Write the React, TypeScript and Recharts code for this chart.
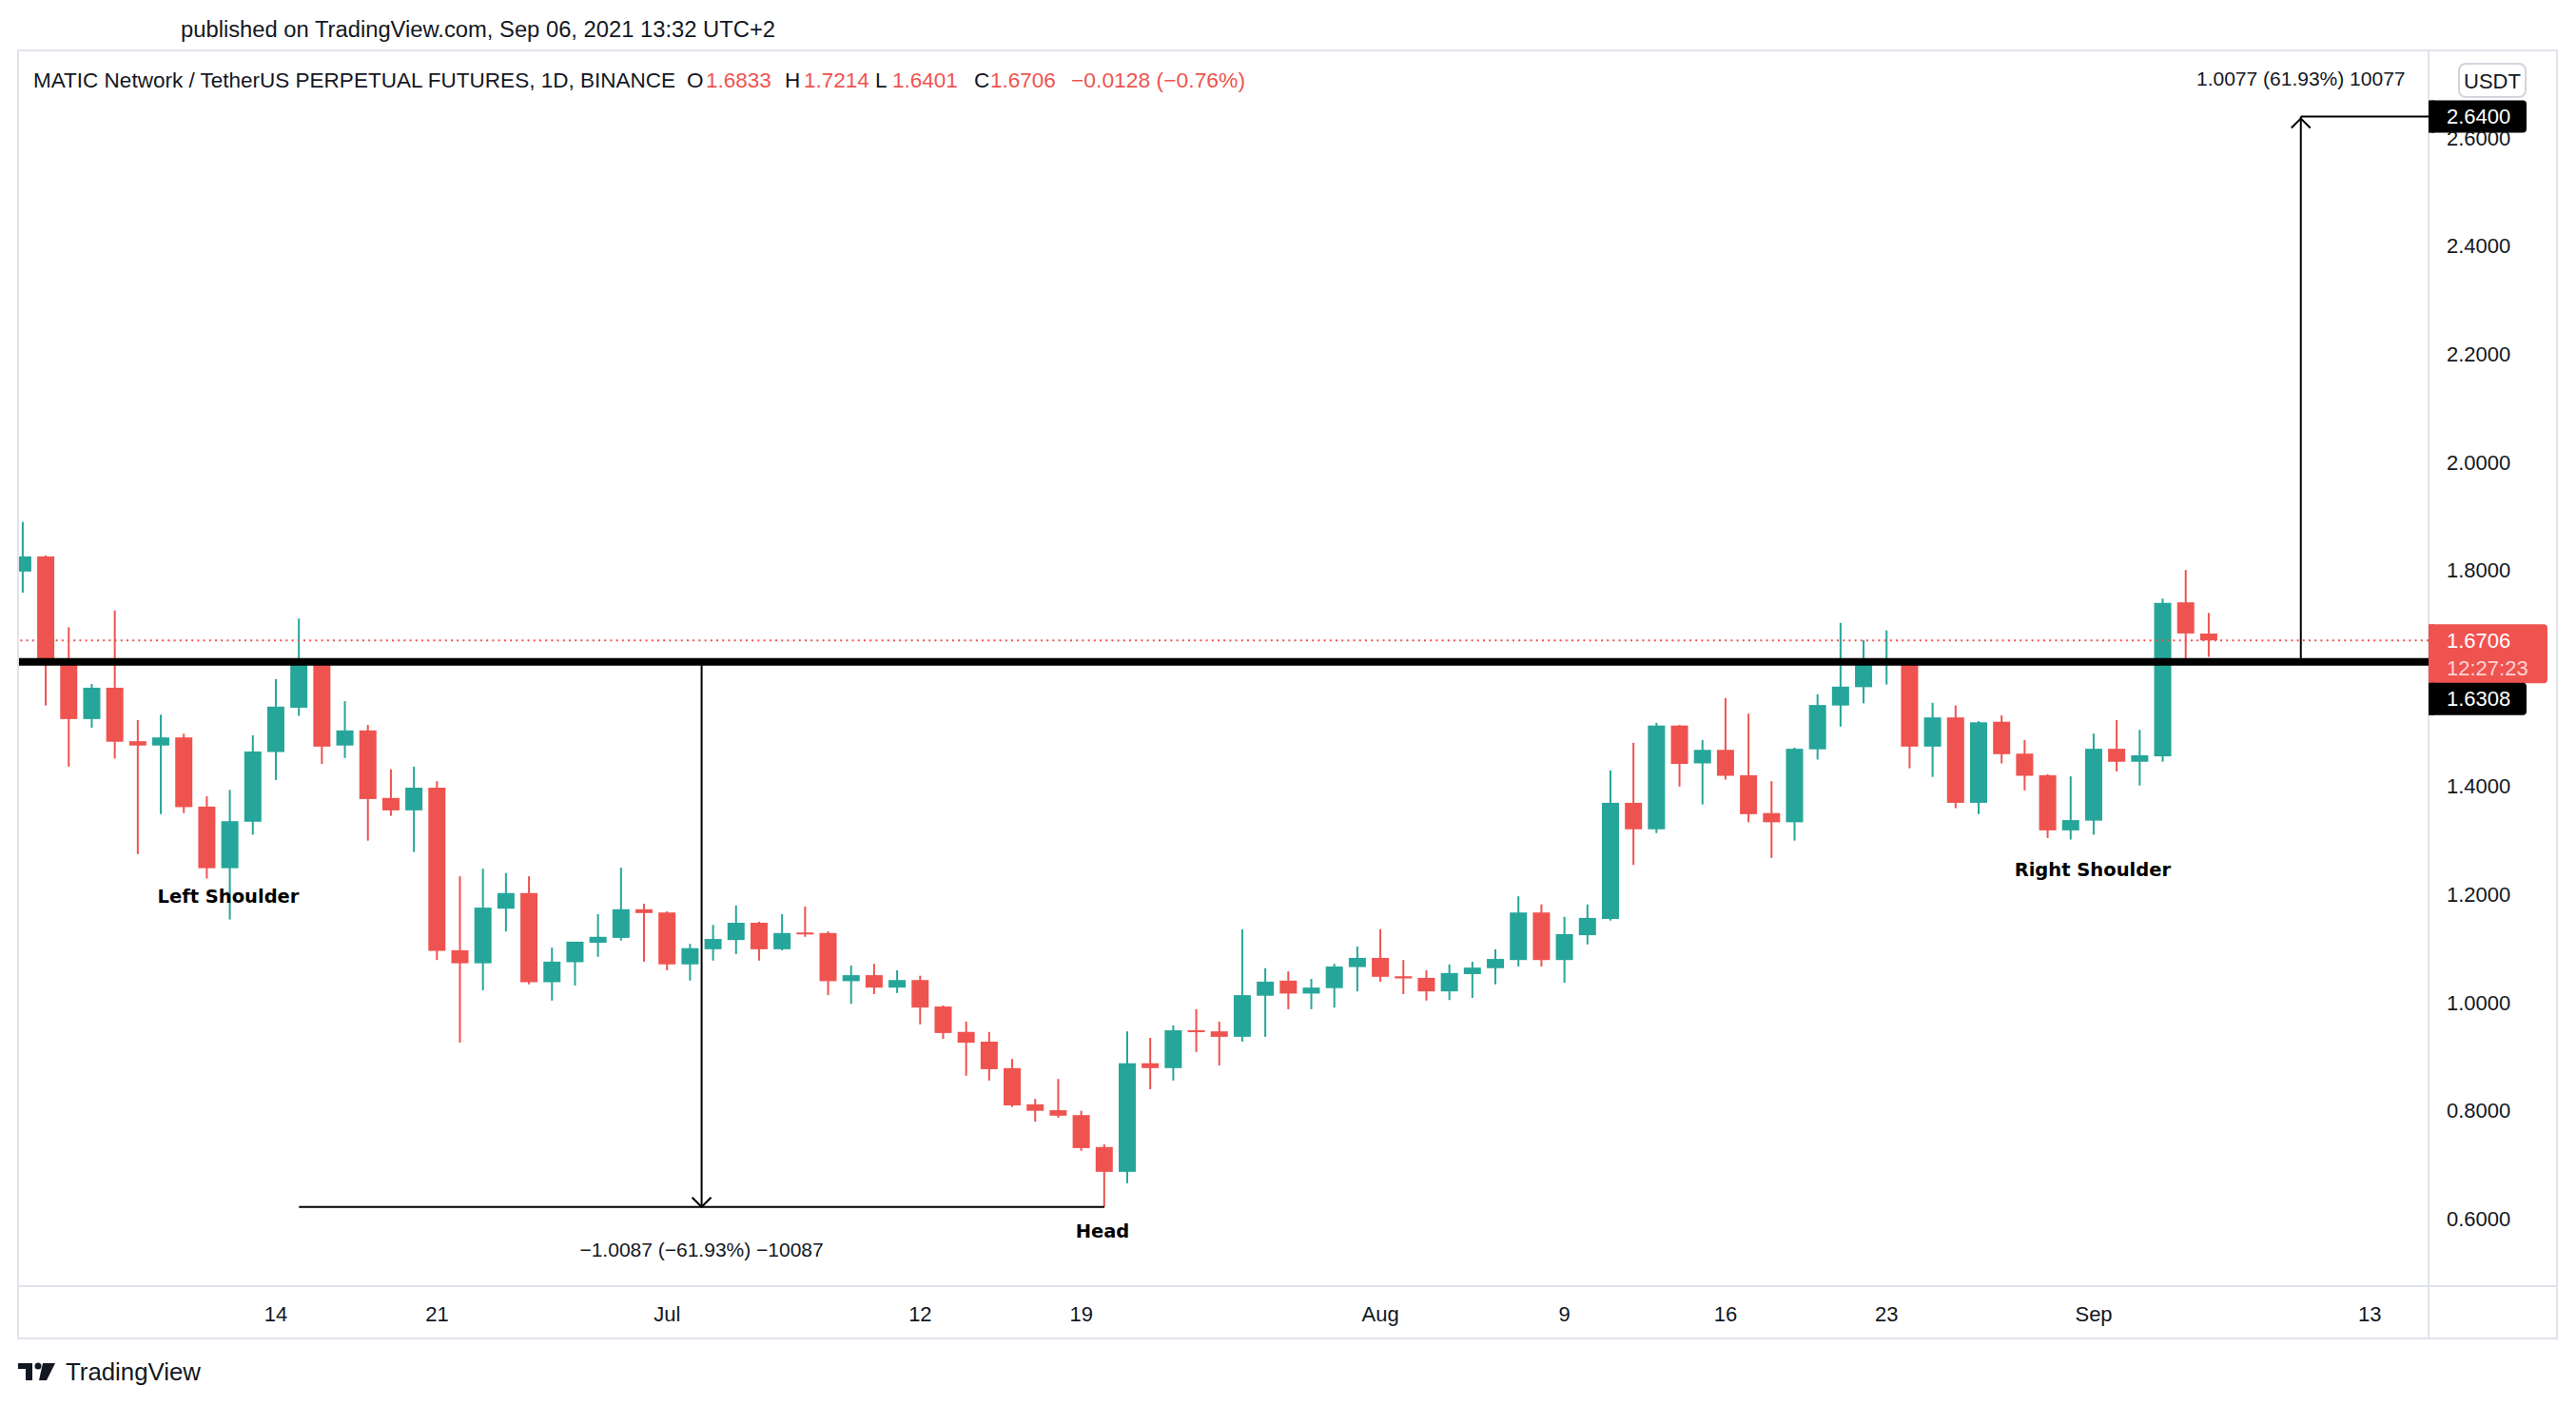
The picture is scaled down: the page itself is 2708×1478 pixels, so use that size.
import React from 'react';
import { ComposedChart, Bar, XAxis, YAxis, ReferenceLine, ReferenceDot } from 'recharts';

const UP = '#26a69a';
const DOWN = '#ef5350';
const TEXT = '#131722';
const BORDER = '#e0e3eb';
const FONT = '"Liberation Sans", Arial, sans-serif';
const BOLD_FONT = '"DejaVu Sans", Verdana, sans-serif';

// ---- data (daily candles, MATIC/USDT perpetual, Binance) ----
const dates = [
  '2021-06-03', '2021-06-04', '2021-06-05', '2021-06-06', '2021-06-07', '2021-06-08', '2021-06-09', '2021-06-10',
  '2021-06-11', '2021-06-12', '2021-06-13', '2021-06-14', '2021-06-15', '2021-06-16', '2021-06-17', '2021-06-18',
  '2021-06-19', '2021-06-20', '2021-06-21', '2021-06-22', '2021-06-23', '2021-06-24', '2021-06-25', '2021-06-26',
  '2021-06-27', '2021-06-28', '2021-06-29', '2021-06-30',
  '2021-07-01', '2021-07-02', '2021-07-03', '2021-07-04', '2021-07-05', '2021-07-06', '2021-07-07', '2021-07-08',
  '2021-07-09', '2021-07-10', '2021-07-11', '2021-07-12', '2021-07-13', '2021-07-14', '2021-07-15', '2021-07-16',
  '2021-07-17', '2021-07-18', '2021-07-19', '2021-07-20', '2021-07-21', '2021-07-22', '2021-07-23', '2021-07-24',
  '2021-07-25', '2021-07-26', '2021-07-27', '2021-07-28', '2021-07-29', '2021-07-30', '2021-07-31',
  '2021-08-01', '2021-08-02', '2021-08-03', '2021-08-04', '2021-08-05', '2021-08-06', '2021-08-07', '2021-08-08',
  '2021-08-09', '2021-08-10', '2021-08-11', '2021-08-12', '2021-08-13', '2021-08-14', '2021-08-15', '2021-08-16',
  '2021-08-17', '2021-08-18', '2021-08-19', '2021-08-20', '2021-08-21', '2021-08-22', '2021-08-23', '2021-08-24',
  '2021-08-25', '2021-08-26', '2021-08-27', '2021-08-28', '2021-08-29', '2021-08-30', '2021-08-31',
  '2021-09-01', '2021-09-02', '2021-09-03', '2021-09-04', '2021-09-05', '2021-09-06',
];

const opens = [
  1.798, 1.826, 1.630, 1.525, 1.583, 1.484, 1.476, 1.491, 1.363, 1.249, 1.335, 1.464, 1.546, 1.628, 1.476, 1.504,
  1.379, 1.356, 1.398, 1.097, 1.073, 1.174, 1.203, 1.038, 1.075, 1.111, 1.120, 1.173,
  1.167, 1.071, 1.099, 1.116, 1.148, 1.099, 1.130, 1.129, 1.040, 1.051, 1.028, 1.042, 0.993, 0.946, 0.928, 0.879,
  0.812, 0.801, 0.792, 0.733, 0.687, 0.888, 0.879, 0.949, 0.947, 0.937, 1.013, 1.041, 1.017, 1.027, 1.066,
  1.083, 1.049, 1.046, 1.021, 1.053, 1.064, 1.079, 1.167, 1.079, 1.125, 1.155, 1.370, 1.321, 1.513, 1.443, 1.468,
  1.421, 1.351, 1.334, 1.469, 1.550, 1.584, 1.627, 1.630, 1.474, 1.528, 1.370, 1.520, 1.461, 1.421, 1.319,
  1.337, 1.470, 1.446, 1.456, 1.741, 1.6833,
];

const highs = [
  1.890, 1.828, 1.695, 1.590, 1.726, 1.523, 1.533, 1.498, 1.382, 1.394, 1.495, 1.599, 1.711, 1.636, 1.558, 1.514,
  1.432, 1.437, 1.410, 1.234, 1.248, 1.240, 1.234, 1.102, 1.113, 1.164, 1.250, 1.183,
  1.169, 1.109, 1.144, 1.180, 1.150, 1.164, 1.178, 1.132, 1.069, 1.072, 1.060, 1.050, 0.995, 0.965, 0.946, 0.896,
  0.822, 0.859, 0.800, 0.738, 0.947, 0.935, 0.958, 0.988, 0.965, 1.136, 1.064, 1.058, 1.044, 1.072, 1.104,
  1.136, 1.079, 1.060, 1.071, 1.076, 1.099, 1.197, 1.182, 1.159, 1.182, 1.430, 1.481, 1.518, 1.514, 1.486, 1.564,
  1.535, 1.410, 1.472, 1.571, 1.703, 1.671, 1.689, 1.634, 1.555, 1.550, 1.521, 1.532, 1.486, 1.423, 1.419,
  1.498, 1.523, 1.505, 1.748, 1.801, 1.7214,
];

const lows = [
  1.759, 1.550, 1.437, 1.509, 1.452, 1.275, 1.349, 1.351, 1.230, 1.154, 1.311, 1.412, 1.531, 1.442, 1.453, 1.300,
  1.346, 1.279, 1.079, 0.926, 1.023, 1.132, 1.034, 1.004, 1.032, 1.085, 1.115, 1.076,
  1.060, 1.041, 1.078, 1.090, 1.078, 1.097, 1.122, 1.014, 0.998, 1.016, 1.018, 0.960, 0.933, 0.865, 0.856, 0.807,
  0.780, 0.787, 0.726, 0.6221, 0.666, 0.840, 0.856, 0.909, 0.884, 0.928, 0.937, 0.988, 0.988, 0.991, 1.021,
  1.039, 1.016, 1.004, 1.005, 1.009, 1.034, 1.067, 1.067, 1.037, 1.108, 1.152, 1.255, 1.314, 1.400, 1.367, 1.413,
  1.334, 1.268, 1.300, 1.450, 1.511, 1.554, 1.589, 1.434, 1.418, 1.360, 1.349, 1.443, 1.393, 1.305, 1.302,
  1.311, 1.428, 1.402, 1.446, 1.636, 1.6401,
];

const closes = [
  1.826, 1.629, 1.525, 1.583, 1.483, 1.476, 1.491, 1.362, 1.249, 1.336, 1.465, 1.548, 1.628, 1.474, 1.504, 1.377,
  1.356, 1.398, 1.096, 1.073, 1.176, 1.203, 1.038, 1.076, 1.113, 1.122, 1.173, 1.166,
  1.071, 1.101, 1.118, 1.148, 1.099, 1.129, 1.127, 1.040, 1.051, 1.028, 1.042, 0.991, 0.944, 0.926, 0.877, 0.810,
  0.800, 0.791, 0.731, 0.687, 0.888, 0.879, 0.949, 0.946, 0.937, 1.014, 1.039, 1.017, 1.028, 1.067, 1.083,
  1.048, 1.045, 1.021, 1.055, 1.065, 1.081, 1.167, 1.079, 1.127, 1.157, 1.370, 1.321, 1.513, 1.442, 1.468, 1.420,
  1.349, 1.334, 1.470, 1.551, 1.585, 1.625, 1.630, 1.474, 1.528, 1.370, 1.519, 1.460, 1.420, 1.319, 1.338,
  1.470, 1.446, 1.458, 1.740, 1.6834, 1.6706,
];

// ---- axes ----
const tickDates = ['2021-06-14', '2021-06-21', '2021-07-01', '2021-07-12', '2021-07-19', '2021-08-01', '2021-08-09', '2021-08-16', '2021-08-23', '2021-09-01', '2021-09-13'];
const tickLabels = ['14', '21', 'Jul', '12', '19', 'Aug', '9', '16', '23', 'Sep', '13'];
const priceTicks = [0.6, 0.8, 1.0, 1.2, 1.4, 1.8, 2.0, 2.2, 2.4, 2.6];

// ---- annotations ----
const NECKLINE = 1.6308;
const LAST_PRICE = 1.6706;
const HEAD_LOW = 0.6221;
const TARGET = 2.64;
const headRangeStart = '2021-06-15';
const headRangeEnd = '2021-07-20';
const targetDate = '2021-09-10';
const headMeasureText = '\u22121.0087 (\u221261.93%) \u221210087';
const targetMeasureText = '1.0077 (61.93%) 10077';
const patternLabels = [
  { text: 'Left Shoulder', day: 8.93, price: 1.196 },
  { text: 'Head', day: 46.92, price: 0.576 },
  { text: 'Right Shoulder', day: 89.95, price: 1.245 },
];

const DAY = 86400000;
const t0 = Date.parse(dates[0]);
const dayIndex = (d: string) => Math.round((Date.parse(d) - t0) / DAY);

const data = dates.map((d, i) => ({
  date: d,
  t: dayIndex(d),
  open: opens[i],
  high: highs[i],
  low: lows[i],
  close: closes[i],
  range: [lows[i], highs[i]],
}));

const xTicks = tickDates.map(dayIndex);
const X_DOMAIN: [number, number] = [-0.165, 104.55];
const Y_DOMAIN: [number, number] = [0.4755, 2.7607];
const headMid = (dayIndex(headRangeStart) + dayIndex(headRangeEnd)) / 2;
const targetDay = dayIndex(targetDate);

const Candle = (props: any) => {
  const { x, y, width, height, payload } = props;
  if (x == null || payload == null) return null;
  const { open, high, low, close } = payload;
  const color = close >= open ? UP : DOWN;
  const top = Math.min(y, y + height);
  const h = Math.abs(height);
  const ppu = h / (high - low);
  const bodyTop = top + (high - Math.max(open, close)) * ppu;
  const bodyBot = top + (high - Math.min(open, close)) * ppu;
  const cx = x + width / 2;
  return (
    <g>
      <rect x={cx - 1} y={top} width={2} height={h} fill={color} />
      <rect x={x} y={bodyTop} width={width} height={Math.max(bodyBot - bodyTop, 2)} fill={color} />
    </g>
  );
};

const XTick = (props: any) => {
  const { x, y, payload } = props;
  const idx = xTicks.indexOf(Math.round(payload.value));
  return (
    <text x={x} y={y} textAnchor="middle" dominantBaseline="central" fontFamily={FONT} fontSize={22} fill={TEXT}>
      {tickLabels[idx]}
    </text>
  );
};

const YTick = (props: any) => {
  const { x, y, payload } = props;
  return (
    <text x={x} y={y} textAnchor="start" dominantBaseline="central" fontFamily={FONT} fontSize={22} fill={TEXT}>
      {Number(payload.value).toFixed(4)}
    </text>
  );
};

const AxisBox = ({ cx, top, h, w, fill, lines }: any) => (
  <g>
    <rect x={cx} y={top} width={w} height={h} rx={4} fill={fill} />
    <rect x={cx} y={top} width={6} height={h} fill={fill} />
    {lines.map((l: any, i: number) => (
      <text key={i} x={cx + 19} y={l.y} dominantBaseline="central" fontFamily={FONT} fontSize={22} fill={l.color}>
        {l.text}
      </text>
    ))}
  </g>
);

const LastPriceLabel = (p: any) => (
  <AxisBox cx={p.cx} top={p.cy - 17} h={62} w={125} fill={DOWN}
    lines={[{ text: LAST_PRICE.toFixed(4), y: p.cy, color: '#ffffff' }, { text: '12:27:23', y: p.cy + 29, color: 'rgba(255,255,255,0.75)' }]} />
);
const NecklineLabel = (p: any) => (
  <AxisBox cx={p.cx} top={p.cy + 22} h={34} w={103} fill="#000000"
    lines={[{ text: NECKLINE.toFixed(4), y: p.cy + 39, color: '#ffffff' }]} />
);
const TargetLabel = (p: any) => (
  <AxisBox cx={p.cx} top={p.cy - 17} h={34} w={103} fill="#000000"
    lines={[{ text: TARGET.toFixed(4), y: p.cy, color: '#ffffff' }]} />
);

const ArrowDown = (p: any) => (
  <polyline points={`${p.cx - 10},${p.cy - 10} ${p.cx},${p.cy} ${p.cx + 10},${p.cy - 10}`} fill="none" stroke="#000" strokeWidth={2} />
);
const ArrowUp = (p: any) => (
  <polyline points={`${p.cx - 10},${p.cy + 12} ${p.cx},${p.cy + 2} ${p.cx + 10},${p.cy + 12}`} fill="none" stroke="#000" strokeWidth={2} />
);
const makeText = (text: string, bold: boolean) => (p: any) => (
  <text x={p.cx} y={p.cy} textAnchor="middle" dominantBaseline="central"
    fontFamily={bold ? BOLD_FONT : FONT} fontWeight={bold ? 700 : 400} fontSize={bold ? 19.5 : 21} fill={bold ? '#000' : TEXT}>
    {text}
  </text>
);

const Chrome = () => (
  <svg width={2708} height={1478} style={{ position: 'absolute', left: 0, top: 0 }}>
    <text x={190} y={31} dominantBaseline="central" fontFamily={FONT} fontSize={23} fill={TEXT}
      textLength={625} lengthAdjust="spacingAndGlyphs">
      published on TradingView.com, Sep 06, 2021 13:32 UTC+2
    </text>
    <rect x={19} y={53} width={2669} height={1354} fill="none" stroke={BORDER} strokeWidth={2} />
    <line x1={2553} y1={53} x2={2553} y2={1407} stroke={BORDER} strokeWidth={2} />
    <line x1={19} y1={1352} x2={2688} y2={1352} stroke={BORDER} strokeWidth={2} />
    <g fontFamily={FONT} fontSize={22.5} dominantBaseline="central">
      <text x={35} y={84} fill={TEXT} textLength={675} lengthAdjust="spacingAndGlyphs">MATIC Network / TetherUS PERPETUAL FUTURES, 1D, BINANCE</text>
      <text x={722} y={84} fill={TEXT}>O</text>
      <text x={742} y={84} fill={DOWN}>1.6833</text>
      <text x={825} y={84} fill={TEXT}>H</text>
      <text x={845} y={84} fill={DOWN}>1.7214</text>
      <text x={920} y={84} fill={TEXT}>L</text>
      <text x={938} y={84} fill={DOWN}>1.6401</text>
      <text x={1024} y={84} fill={TEXT}>C</text>
      <text x={1041} y={84} fill={DOWN}>1.6706</text>
      <text x={1126} y={84} fill={DOWN} textLength={183} lengthAdjust="spacingAndGlyphs">{'\u22120.0128 (\u22120.76%)'}</text>
    </g>
    <rect x={2585} y={67} width={70} height={35} rx={7} fill="#fff" stroke="#d1d4dc" strokeWidth={2} />
    <text x={2620} y={85} textAnchor="middle" dominantBaseline="central" fontFamily={FONT} fontSize={22} fill={TEXT}>USDT</text>
    <g fill={TEXT}>
      <rect x={19} y={1433} width={15} height={6} />
      <rect x={27} y={1433} width={7} height={18} />
      <circle cx={40} cy={1436} r={3.5} />
      <polygon points="45,1433 58,1433 49,1451 41,1451" />
    </g>
    <text x={69} y={1442} dominantBaseline="central" fontFamily={FONT} fontSize={25} fill={TEXT}
      textLength={142} lengthAdjust="spacingAndGlyphs">TradingView</text>
  </svg>
);

export default function App() {
  return (
    <div style={{ position: 'absolute', left: 0, top: 0, width: 2708, height: 1478, background: '#ffffff', overflow: 'hidden' }}>
      <Chrome />
      <div style={{ position: 'absolute', left: 20, top: 54 }}>
        <ComposedChart width={2668} height={1353} data={data} margin={{ top: 0, right: 0, bottom: 0, left: 0 }}>
          <XAxis dataKey="t" type="number" domain={X_DOMAIN} allowDataOverflow ticks={xTicks} interval={0}
            axisLine={false} tickLine={false} tickSize={0} tickMargin={29} height={55} tick={<XTick />} />
          <YAxis yAxisId="p" orientation="right" type="number" domain={Y_DOMAIN} allowDataOverflow ticks={priceTicks} interval={0}
            axisLine={false} tickLine={false} tickSize={0} tickMargin={19} width={135} tick={<YTick />} />
          <Bar yAxisId="p" dataKey="range" barSize={18} shape={<Candle />} isAnimationActive={false} />
          <ReferenceLine yAxisId="p" y={LAST_PRICE} stroke={DOWN} strokeWidth={2} strokeDasharray="2 4.2" />
          <ReferenceLine yAxisId="p" y={NECKLINE} stroke="#000" strokeWidth={8} />
          <ReferenceLine yAxisId="p" segment={[{ x: dayIndex(headRangeStart), y: HEAD_LOW }, { x: dayIndex(headRangeEnd), y: HEAD_LOW }]} stroke="#000" strokeWidth={2} />
          <ReferenceLine yAxisId="p" segment={[{ x: headMid, y: NECKLINE }, { x: headMid, y: HEAD_LOW }]} stroke="#000" strokeWidth={2} />
          <ReferenceLine yAxisId="p" segment={[{ x: targetDay, y: NECKLINE }, { x: targetDay, y: TARGET }]} stroke="#000" strokeWidth={2} />
          <ReferenceLine yAxisId="p" segment={[{ x: targetDay, y: TARGET }, { x: X_DOMAIN[1], y: TARGET }]} stroke="#000" strokeWidth={2} />
          <ReferenceDot yAxisId="p" x={headMid} y={HEAD_LOW} r={0} shape={ArrowDown} />
          <ReferenceDot yAxisId="p" x={targetDay} y={TARGET} r={0} shape={ArrowUp} />
          <ReferenceDot yAxisId="p" x={headMid} y={0.544} r={0} shape={makeText(headMeasureText, false)} />
          <ReferenceDot yAxisId="p" x={targetDay} y={2.7097} r={0} shape={makeText(targetMeasureText, false)} />
          {patternLabels.map((l) => (
            <ReferenceDot key={l.text} yAxisId="p" x={l.day} y={l.price} r={0} shape={makeText(l.text, true)} />
          ))}
          <ReferenceDot yAxisId="p" x={X_DOMAIN[1]} y={LAST_PRICE} r={0} shape={LastPriceLabel} />
          <ReferenceDot yAxisId="p" x={X_DOMAIN[1]} y={NECKLINE} r={0} shape={NecklineLabel} />
          <ReferenceDot yAxisId="p" x={X_DOMAIN[1]} y={TARGET} r={0} shape={TargetLabel} />
        </ComposedChart>
      </div>
    </div>
  );
}
